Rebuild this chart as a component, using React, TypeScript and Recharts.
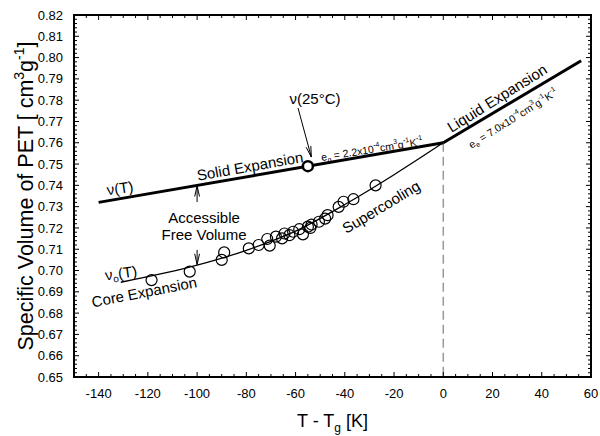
import { ComposedChart, Line, Scatter, XAxis, YAxis, ReferenceLine, ReferenceDot, ReferenceArea } from 'recharts'

const FONT = "Arial, 'Liberation Sans', sans-serif"
const W = 600
const H = 436
const MARGIN = { top: 15, right: 9, bottom: 0, left: 0 }
const X_AXIS_H = 59

// axis ticks: every 5 K / 0.002 cm3/g, labelled every 20 K / 0.01 cm3/g
const xMajor = [-140, -120, -100, -80, -60, -40, -20, 0, 20, 40, 60]
const yMajor = [0.65, 0.66, 0.67, 0.68, 0.69, 0.7, 0.71, 0.72, 0.73, 0.74, 0.75, 0.76, 0.77, 0.78, 0.79, 0.8, 0.81, 0.82]
const steps = (a: number, b: number, s: number) =>
  Array.from({ length: Math.round((b - a) / s) + 1 }, (_, i) => +(a + i * s).toFixed(4))
const xTicks = steps(-150, 60, 5)
const yTicks = steps(0.65, 0.82, 0.002)

// glassy (solid) expansion v(T) and liquid expansion above Tg
const solidLine = [{ t: -140, v: 0.732 }, { t: 0, v: 0.76 }]
const liquidLine = [{ t: 0, v: 0.76 }, { t: 56, v: 0.7985 }]
// core volume v0(T) running into the supercooled liquid
const coreLine = [
  { t: -131, v: 0.6945 }, { t: -100, v: 0.7025 }, { t: -80, v: 0.7095 },
  { t: -60, v: 0.7185 }, { t: -40, v: 0.731 }, { t: -20, v: 0.745 }, { t: 0, v: 0.76 },
]
// measured core volumes
const measured = [
  { t: -118.5, v: 0.6955 }, { t: -103, v: 0.6995 }, { t: -89, v: 0.7085 }, { t: -90, v: 0.705 },
  { t: -79, v: 0.7104 }, { t: -75, v: 0.712 }, { t: -71.5, v: 0.7148 }, { t: -70.5, v: 0.7117 },
  { t: -68, v: 0.7159 }, { t: -65.5, v: 0.7151 }, { t: -64.5, v: 0.7174 }, { t: -62.5, v: 0.7166 },
  { t: -61, v: 0.7182 }, { t: -58.5, v: 0.7194 }, { t: -57, v: 0.717 }, { t: -55, v: 0.7206 },
  { t: -53.5, v: 0.7216 }, { t: -54, v: 0.72 }, { t: -50.5, v: 0.7229 }, { t: -48, v: 0.7244 },
  { t: -47, v: 0.726 }, { t: -42.5, v: 0.7299 }, { t: -40.5, v: 0.7323 }, { t: -36.5, v: 0.7335 },
  { t: -27.5, v: 0.74 },
]
const roomTemp = [{ t: -55, v: 0.749 }]

const openCircle = (p: any) => <circle cx={p.cx} cy={p.cy} r={5.5} fill="none" stroke="#000" strokeWidth={1.2} />
const boldCircle = (p: any) => <circle cx={p.cx} cy={p.cy} r={5} fill="#fff" stroke="#000" strokeWidth={2.5} />

// inward ticks on both bottom and top edges, label only on the 20 K steps
const X_MARGIN = 12
const XTick = (p: any) => {
  const { x, y, payload } = p
  const v = payload.value
  const major = v % 20 === 0
  const len = major ? 5 : 3
  const base = y - X_MARGIN
  const top = MARGIN.top
  return (
    <g stroke="#000" strokeWidth={1}>
      <line x1={x} x2={x} y1={base} y2={base - len} />
      <line x1={x} x2={x} y1={top} y2={top + len} />
      {major && (
        <text x={x} y={y} dy="0.71em" textAnchor="middle" stroke="none" fill="#000" fontSize={13} fontFamily={FONT}>{v}</text>
      )}
    </g>
  )
}

// inward ticks on left and right edges
const Y_MARGIN = 11
const YTick = (p: any) => {
  const { x, y, payload } = p
  const v = payload.value
  const major = Math.round(v * 1000) % 10 === 0
  const len = major ? 5 : 3
  const base = x + Y_MARGIN
  const right = W - MARGIN.right
  return (
    <g stroke="#000" strokeWidth={1}>
      <line x1={base} x2={base + len} y1={y} y2={y} />
      <line x1={right} x2={right - len} y1={y} y2={y} />
      {major && (
        <text x={x} y={y} dy="0.355em" textAnchor="end" stroke="none" fill="#000" fontSize={13} fontFamily={FONT}>{v.toFixed(2)}</text>
      )}
    </g>
  )
}

const arrowShape = (p: any) => {
  const { x1, y1, x2, y2 } = p
  const a = Math.atan2(y2 - y1, x2 - x1)
  const len = 11
  const sp = 0.22
  const h1x = x2 - len * Math.cos(a - sp), h1y = y2 - len * Math.sin(a - sp)
  const h2x = x2 - len * Math.cos(a + sp), h2y = y2 - len * Math.sin(a + sp)
  return (
    <g stroke="#000" strokeWidth={1} fill="none">
      <line x1={x1} y1={y1} x2={x2} y2={y2} />
      <path d={`M${h1x},${h1y} L${x2},${y2} L${h2x},${h2y}`} />
    </g>
  )
}

const arrow = (key: string, from: [number, number], to: [number, number]) => (
  <ReferenceLine key={key} segment={[{ x: from[0], y: from[1] }, { x: to[0], y: to[1] }]}
    ifOverflow="visible" shape={arrowShape} />
)

const note = (key: string, t: number, v: number, angle: number, size: number, body: any) => (
  <ReferenceDot key={key} x={t} y={v} r={0} ifOverflow="visible"
    shape={(p: any) => (
      <text transform={`translate(${p.cx},${p.cy}) rotate(${angle})`} textAnchor="middle"
        dominantBaseline="central" fontSize={size} fontFamily={FONT} fill="#000">{body}</text>
    )} />
)

const Sup = ({ children, s = 7 }: any) => <><tspan dy={-s * 0.6} fontSize={s}>{children}</tspan><tspan dy={s * 0.6}>{'\u200b'}</tspan></>
const Sub = ({ children, s = 7 }: any) => <><tspan dy={s * 0.45} fontSize={s}>{children}</tspan><tspan dy={-s * 0.45}>{'\u200b'}</tspan></>

const XTitle = (props: any) => {
  const { x, y, width } = props.viewBox
  return (
    <text x={x + width / 2} y={y + 50} textAnchor="middle" fontSize={18} fontFamily={FONT} fill="#000">
      T - T<tspan dy={5} fontSize={12}>g</tspan><tspan dy={-5}> [K]</tspan>
    </text>
  )
}

const YTitle = () => {
  const cy = (MARGIN.top + H - X_AXIS_H) / 2
  return (
    <text transform={`translate(33,${cy}) rotate(-90)`} textAnchor="middle" fontSize={21.5} fontFamily={FONT} fill="#000">
      Specific Volume of PET [ cm<tspan dy={-9} fontSize={14}>3</tspan><tspan dy={9}>g</tspan>
      <tspan dy={-9} fontSize={14}>-1</tspan><tspan dy={9}>]</tspan>
    </text>
  )
}

export default function App() {
  return (
    <div style={{ position: 'absolute', left: 0, top: 0, background: '#fff' }}>
      <ComposedChart width={W} height={H} margin={MARGIN}>
        <XAxis dataKey="t" type="number" domain={[-150, 60]} allowDataOverflow ticks={xTicks} interval={0}
          height={X_AXIS_H} tickSize={0} tickMargin={X_MARGIN} axisLine={false} tickLine={false} tick={<XTick />}
          label={<XTitle />} />
        <YAxis dataKey="v" type="number" domain={[0.65, 0.82]} allowDataOverflow ticks={yTicks} interval={0}
          width={74} tickSize={0} tickMargin={Y_MARGIN} axisLine={false} tickLine={false} tick={<YTick />}
          label={<YTitle />} />

        {/* plot frame */}
        <ReferenceArea x1={-150} x2={60} y1={0.65} y2={0.82} fill="none" fillOpacity={0} stroke="#000" strokeWidth={2}
          strokeOpacity={1} ifOverflow="visible" />

        <ReferenceLine segment={[{ x: 0, y: 0.76 }, { x: 0, y: 0.65 }]} stroke="#999" strokeWidth={1.5}
          strokeDasharray="9 5" ifOverflow="visible" />

        <Line data={coreLine} dataKey="v" type="monotone" stroke="#000" strokeWidth={1.3} dot={false} isAnimationActive={false} />
        <Line data={solidLine} dataKey="v" type="linear" stroke="#000" strokeWidth={3} dot={false} isAnimationActive={false} />
        <Line data={liquidLine} dataKey="v" type="linear" stroke="#000" strokeWidth={3} dot={false} isAnimationActive={false} />
        <Scatter data={measured} dataKey="v" shape={openCircle} isAnimationActive={false} />
        <Scatter data={roomTemp} dataKey="v" shape={boldCircle} isAnimationActive={false} />

        {arrow('a25', [-59, 0.7763], [-53.6, 0.7533])}
        {arrow('aUp', [-100, 0.7322], [-100, 0.7398])}
        {arrow('aDn', [-100, 0.7097], [-100, 0.7028])}

        {note('vT', -131.3, 0.7388, -8, 15, <>ν(T)</>)}
        {note('solid', -78.5, 0.7491, -10, 15, <>Solid Expansion</>)}
        {note('v25', -52.1, 0.7808, 0, 15, <>ν(25°C)</>)}
        {note('eg', -29, 0.7571, -9, 10.5, <>e<Sub s={7}>g</Sub> = 2.2x10<Sup>-4</Sup>cm<Sup>3</Sup>g<Sup>-1</Sup>K<Sup>-1</Sup></>)}
        {note('liquid', 21.8, 0.781, -32, 15, <>Liquid Expansion</>)}
        {note('ee', 28.3, 0.7716, -32, 10.5, <>e<Sub s={7}>e</Sub> = 7.0x10<Sup>-4</Sup>cm<Sup>3</Sup>g<Sup>-1</Sup>K<Sup>-1</Sup></>)}
        {note('super', -25.3, 0.7299, -31, 15, <>Supercooling</>)}
        {note('acc', -97.2, 0.7247, 0, 15, <>Accessible</>)}
        {note('free', -97.2, 0.7167, 0, 15, <>Free Volume</>)}
        {note('v0', -130.9, 0.6989, -8, 15, <>ν<Sub s={10}>o</Sub>(T)</>)}
        {note('core', -121.5, 0.69, -11, 15, <>Core Expansion</>)}
      </ComposedChart>
    </div>
  )
}
